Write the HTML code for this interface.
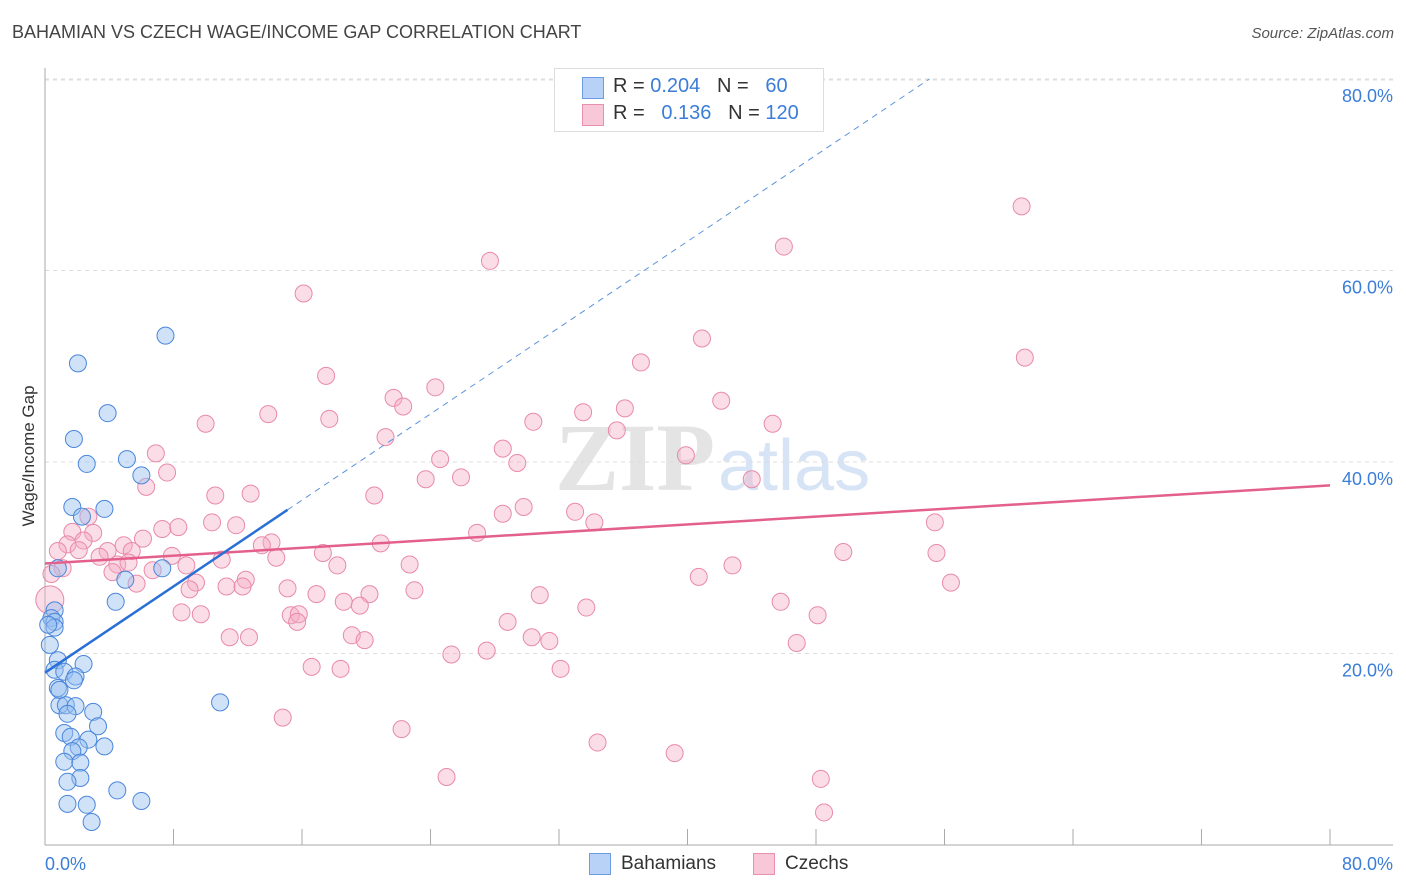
<!DOCTYPE html>
<html><head><meta charset="utf-8"><style>
body{margin:0;background:#fff;font-family:"Liberation Sans",sans-serif;}
#wrap{position:relative;width:1406px;height:892px;overflow:hidden;}
.t{position:absolute;white-space:nowrap;}
</style></head><body>
<div id="wrap">
<div class="t" style="left:12px;top:22px;font-size:18px;color:#444;">BAHAMIAN VS CZECH WAGE/INCOME GAP CORRELATION CHART</div>
<div class="t" style="right:12px;top:25px;font-size:15px;color:#555;font-style:italic;">Source: ZipAtlas.com</div>
<svg id="svg" width="1406" height="892" style="position:absolute;left:0;top:0"></svg>
</div>
<script>
const blueX=[7.5,2.05,3.9,1.8,2.6,5.1,6.0,1.7,3.7,2.3,5.0,7.3,4.4,0.8,0.6,0.4,0.6,0.6,0.2,0.3,0.8,2.4,0.6,1.2,1.9,1.8,0.8,0.9,1.3,1.9,1.4,3.0,10.9,3.3,1.2,1.6,2.7,2.1,3.7,1.7,1.2,2.2,2.2,1.4,4.5,6.0,1.4,2.6,2.9,0.9];
const blueY=[53.2,50.3,45.1,42.4,39.8,40.3,38.6,35.3,35.1,34.3,27.7,28.9,25.4,28.9,24.5,23.7,23.3,22.7,23.0,20.9,19.3,18.9,18.3,18.1,17.6,17.2,16.4,14.6,14.6,14.5,13.7,13.9,14.9,12.4,11.7,11.3,11.0,10.2,10.3,9.8,8.7,8.6,7.0,6.6,5.7,4.6,4.3,4.2,2.4,16.2];
const pinkX=[60.8,46.0,27.7,16.1,40.9,61.0,37.1,17.5,24.3,21.7,22.3,42.1,36.1,33.5,13.9,17.7,30.4,10.0,45.3,35.6,21.2,28.5,6.9,39.9,24.6,29.4,7.6,25.9,23.7,44.0,6.3,10.6,12.8,20.5,29.8,28.5,33.0,34.2,55.4,2.7,10.4,11.9,7.3,8.3,1.7,3.0,26.9,6.1,2.4,1.4,14.1,13.5,20.9,4.9,0.8,2.1,3.9,5.4,17.3,49.7,55.5,3.4,7.9,11.0,14.4,4.5,5.2,8.8,18.2,22.7,42.8,1.1,6.7,4.2,0.4,40.7,12.5,5.7,9.4,11.3,12.3,56.4,9.0,15.1,23.0,16.9,20.2,30.8,18.6,19.6,33.7,45.8,8.5,9.7,15.3,15.8,15.7,28.8,48.1,11.5,12.7,19.1,19.9,30.3,31.4,46.8,25.3,27.5,16.6,18.4,32.1,14.8,22.2,34.4,39.2,25.0,48.3,48.5,0.3];
const pinkY=[66.7,62.5,61.0,57.6,52.9,50.9,50.4,49.0,47.8,46.7,45.8,46.4,45.6,45.2,45.0,44.5,44.2,44.0,44.0,43.3,42.6,41.4,40.9,40.7,40.3,39.9,38.9,38.4,38.2,38.2,37.4,36.5,36.7,36.5,35.3,34.6,34.8,33.7,33.7,34.3,33.7,33.4,33.0,33.2,32.7,32.6,32.6,32.0,31.8,31.4,31.6,31.3,31.5,31.3,30.7,30.8,30.7,30.7,30.5,30.6,30.5,30.1,30.2,29.8,30.0,29.3,29.5,29.2,29.2,29.3,29.2,28.9,28.7,28.5,28.3,28.0,27.7,27.3,27.4,27.0,27.0,27.4,26.7,26.8,26.6,26.2,26.2,26.1,25.4,25.0,24.8,25.4,24.3,24.1,24.0,24.1,23.3,23.3,24.0,21.7,21.7,21.9,21.4,21.7,21.3,21.1,19.9,20.3,18.6,18.4,18.4,13.3,12.1,10.7,9.6,7.1,6.9,3.4,25.6];
const yTicks=[20,40,60,80];
const blueFit=[18.0,1.126];
const pinkFit=[29.4,0.102];
const NS='http://www.w3.org/2000/svg';
const svg=document.getElementById('svg');
const X=v=>45+v*1285/80, Y=v=>845-v*191.5/20;
function mk(tag,attrs){const e=document.createElementNS(NS,tag);for(const k in attrs)e.setAttribute(k,attrs[k]);svg.appendChild(e);return e;}
// watermark
let w=mk('text',{x:555,y:490,'font-size':96,fill:'#e4e4e4','font-family':'Liberation Serif, serif','font-weight':'bold'});w.textContent='ZIP';


w=mk('text',{x:718,y:490,'font-size':72,fill:'#d6e4f6','font-family':'Liberation Sans, sans-serif'});w.textContent='atlas';


yTicks.forEach(t=>{
 const g=mk('line',{x1:45,x2:1393,y1:Y(t),y2:Y(t),stroke:'#ddd','stroke-dasharray':'4,4'});
 
 
 const l=mk('text',{x:1393,y:Y(t)+23,'text-anchor':'end','font-size':18,fill:'#3b7dd8'});l.textContent=t.toFixed(1)+'%';
 
 
});
const tg=mk('line',{x1:45,x2:1393,y1:80,y2:80,stroke:'#ddd','stroke-dasharray':'4,4'});
let a=mk('line',{x1:45,x2:45,y1:68,y2:845,stroke:'#aaa'});


a=mk('line',{x1:45,x2:1393,y1:845,y2:845,stroke:'#aaa'});


for(let i=0;i<=10;i++){const t=mk('line',{x1:X(i*8),x2:X(i*8),y1:829,y2:845,stroke:'#aaa'});
 
 }
let xl=mk('text',{x:45,y:870,'font-size':18,fill:'#3b7dd8'});xl.textContent='0.0%';


xl=mk('text',{x:1393,y:870,'font-size':18,fill:'#3b7dd8','text-anchor':'end'});xl.textContent='80.0%';


let yt=mk('text',{x:34,y:456,'font-size':17,fill:'#333','text-anchor':'middle',transform:'rotate(-90 34 456)'});yt.textContent='Wage/Income Gap';


pinkX.forEach((x,i)=>{const c=mk('circle',{cx:X(x),cy:Y(pinkY[i]),r:i==pinkX.length-1?14:8.5,fill:'rgba(245,170,195,0.4)',stroke:'#e88aaa','stroke-width':1});
 
 });
blueX.forEach((x,i)=>{const c=mk('circle',{cx:X(x),cy:Y(blueY[i]),r:8.5,fill:'rgba(150,190,240,0.45)',stroke:'#4a86dc','stroke-width':1});
 
 });
let f=mk('line',{x1:X(0),y1:Y(pinkFit[0]),x2:X(80),y2:Y(pinkFit[0]+80*pinkFit[1]),stroke:'#e4608c','stroke-width':2.5});


const bEnd=(80-blueFit[0])/blueFit[1];
f=mk('line',{x1:X(15.1),y1:Y(blueFit[0]+15.1*blueFit[1]),x2:X(bEnd),y2:Y(80),stroke:'#5b93de','stroke-width':1,'stroke-dasharray':'6,5'});


f=mk('line',{x1:X(0),y1:Y(blueFit[0]),x2:X(15.1),y2:Y(blueFit[0]+15.1*blueFit[1]),stroke:'#2a6fd6','stroke-width':2.5});


</script>
<div class="t" style="left:554px;top:68px;width:268px;height:62px;border:1px solid #ddd;background:#fff;font-size:20px;">
 <div style="position:absolute;left:27px;top:8px;width:20px;height:20px;background:#b7d2f6;border:1px solid #6b9de0;"></div>
 <div class="t" style="left:58px;top:6px;color:#333;">R = <span style="color:#3b7dd8">0.204</span>&nbsp;&nbsp;&nbsp;N = &nbsp;&nbsp;<span style="color:#3b7dd8">60</span></div>
 <div style="position:absolute;left:27px;top:35px;width:20px;height:20px;background:#f8c8d8;border:1px solid #e890ae;"></div>
 <div class="t" style="left:58px;top:33px;color:#333;">R = &nbsp;&nbsp;<span style="color:#3b7dd8">0.136</span>&nbsp;&nbsp;&nbsp;N = <span style="color:#3b7dd8">120</span></div>
</div>
<div class="t" style="left:589px;top:853px;width:20px;height:20px;background:#b7d2f6;border:1px solid #6b9de0;"></div>
<div class="t" style="left:621px;top:853px;font-size:19px;color:#333;">Bahamians</div>
<div class="t" style="left:753px;top:853px;width:20px;height:20px;background:#f8c8d8;border:1px solid #e890ae;"></div>
<div class="t" style="left:785px;top:853px;font-size:19px;color:#333;">Czechs</div>
</body></html>
